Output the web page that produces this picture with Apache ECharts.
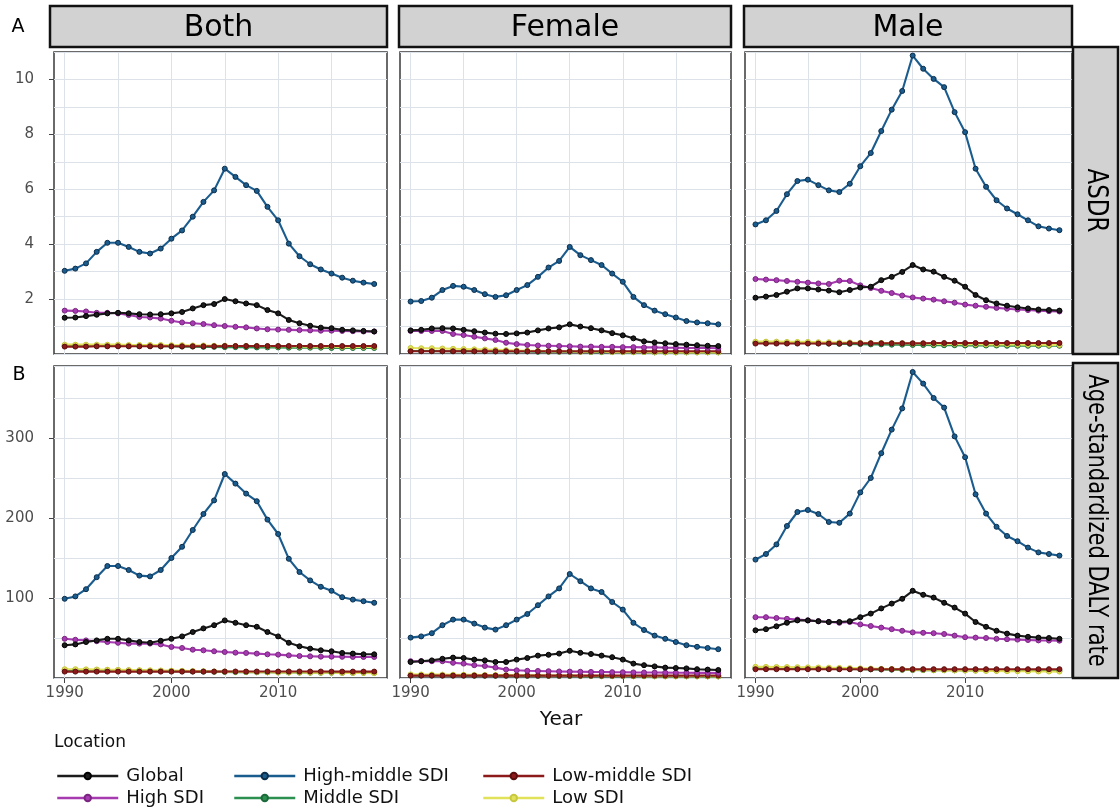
<!DOCTYPE html>
<html><head><meta charset="utf-8">
<script src="https://cdn.jsdelivr.net/npm/echarts@6/dist/echarts.min.js"></script>
<style>html,body{margin:0;padding:0;background:#fff}#c{width:1120px;height:812px}</style>
</head><body><div id="c"></div>
<script>
// ---------------- data ----------------
const years = [1990,1991,1992,1993,1994,1995,1996,1997,1998,1999,2000,2001,2002,2003,2004,2005,2006,2007,2008,2009,2010,2011,2012,2013,2014,2015,2016,2017,2018,2019];
const sexes = ['Both', 'Female', 'Male'];
const measures = ['ASDR', 'Age-standardized DALY rate'];
const locations = ['Global', 'High SDI', 'High-middle SDI', 'Middle SDI', 'Low-middle SDI', 'Low SDI'];
const xLabelYears = [1990, 2000, 2010];
const xGridYears = [1990, 1995, 2000, 2005, 2010, 2015];
const asdrTicks = [2, 4, 6, 8, 10];
const dalyTicks = [100, 200, 300];

// ASDR - Both
const asdrBothGlobal = [1.32,1.33,1.38,1.43,1.48,1.50,1.48,1.45,1.44,1.45,1.48,1.53,1.66,1.78,1.82,2.00,1.92,1.84,1.78,1.60,1.48,1.24,1.12,1.03,0.96,0.94,0.88,0.86,0.84,0.82];
const asdrBothHigh = [1.58,1.57,1.55,1.50,1.50,1.48,1.42,1.35,1.33,1.29,1.21,1.15,1.12,1.09,1.05,1.02,0.99,0.97,0.93,0.90,0.89,0.88,0.87,0.86,0.85,0.85,0.84,0.83,0.82,0.82];
const asdrBothHighMiddle = [3.03,3.11,3.30,3.72,4.05,4.05,3.90,3.72,3.66,3.84,4.20,4.50,5.00,5.54,5.96,6.75,6.45,6.15,5.94,5.36,4.87,4.02,3.56,3.27,3.08,2.93,2.78,2.67,2.60,2.55];
const asdrBothMiddle = [0.30,0.30,0.30,0.30,0.30,0.30,0.29,0.29,0.29,0.28,0.28,0.27,0.27,0.26,0.26,0.25,0.25,0.25,0.24,0.24,0.24,0.23,0.23,0.23,0.23,0.22,0.22,0.22,0.22,0.22];
const asdrBothLowMiddle = [0.27,0.27,0.27,0.28,0.28,0.28,0.28,0.28,0.28,0.28,0.28,0.28,0.28,0.28,0.28,0.29,0.29,0.29,0.29,0.29,0.29,0.29,0.29,0.29,0.29,0.29,0.29,0.29,0.29,0.29];
const asdrBothLow = [0.34,0.34,0.34,0.34,0.34,0.34,0.33,0.33,0.33,0.33,0.32,0.32,0.31,0.31,0.30,0.30,0.29,0.29,0.29,0.28,0.28,0.28,0.27,0.27,0.27,0.27,0.26,0.26,0.26,0.26];

// ASDR - Female
const asdrFemaleGlobal = [0.86,0.88,0.93,0.94,0.93,0.88,0.83,0.78,0.74,0.73,0.75,0.78,0.86,0.93,0.97,1.08,1.00,0.94,0.86,0.76,0.68,0.57,0.46,0.42,0.39,0.36,0.34,0.32,0.30,0.29];
const asdrFemaleHigh = [0.84,0.84,0.84,0.84,0.73,0.69,0.63,0.57,0.51,0.41,0.36,0.33,0.31,0.30,0.29,0.28,0.27,0.27,0.26,0.26,0.25,0.25,0.24,0.24,0.23,0.23,0.22,0.22,0.22,0.21];
const asdrFemaleHighMiddle = [1.91,1.93,2.05,2.33,2.48,2.45,2.33,2.18,2.08,2.14,2.33,2.51,2.81,3.15,3.39,3.90,3.60,3.42,3.24,2.93,2.63,2.08,1.78,1.58,1.45,1.33,1.20,1.15,1.12,1.08];
const asdrFemaleMiddle = [0.11,0.11,0.11,0.10,0.10,0.10,0.10,0.10,0.09,0.09,0.09,0.09,0.08,0.08,0.08,0.08,0.08,0.07,0.07,0.07,0.07,0.07,0.07,0.06,0.06,0.06,0.06,0.06,0.06,0.06];
const asdrFemaleLowMiddle = [0.10,0.10,0.10,0.10,0.10,0.10,0.10,0.10,0.10,0.10,0.10,0.10,0.10,0.10,0.10,0.10,0.10,0.10,0.10,0.10,0.10,0.10,0.10,0.10,0.10,0.10,0.10,0.10,0.10,0.10];
const asdrFemaleLow = [0.22,0.21,0.21,0.20,0.19,0.18,0.17,0.16,0.15,0.14,0.13,0.12,0.11,0.10,0.09,0.09,0.08,0.08,0.08,0.07,0.07,0.07,0.07,0.06,0.06,0.06,0.06,0.06,0.06,0.06];

// ASDR - Male
const asdrMaleGlobal = [2.05,2.09,2.15,2.27,2.39,2.39,2.35,2.31,2.25,2.33,2.42,2.45,2.69,2.81,2.99,3.24,3.08,3.00,2.81,2.67,2.45,2.15,1.96,1.84,1.76,1.70,1.66,1.62,1.60,1.58];
const asdrMaleHigh = [2.73,2.71,2.69,2.66,2.63,2.60,2.57,2.55,2.67,2.66,2.50,2.40,2.30,2.22,2.13,2.06,2.02,1.98,1.92,1.87,1.80,1.76,1.72,1.68,1.65,1.62,1.60,1.58,1.56,1.55];
const asdrMaleHighMiddle = [4.72,4.87,5.21,5.82,6.30,6.35,6.15,5.96,5.90,6.20,6.84,7.32,8.12,8.90,9.58,10.87,10.39,10.02,9.72,8.81,8.08,6.75,6.09,5.60,5.30,5.09,4.87,4.65,4.57,4.51];
const asdrMaleMiddle = [0.42,0.42,0.41,0.41,0.40,0.40,0.39,0.38,0.37,0.37,0.36,0.35,0.35,0.34,0.34,0.33,0.33,0.32,0.32,0.32,0.31,0.31,0.31,0.31,0.30,0.30,0.30,0.30,0.30,0.30];
const asdrMaleLowMiddle = [0.38,0.38,0.38,0.38,0.38,0.38,0.38,0.38,0.38,0.39,0.39,0.39,0.39,0.39,0.39,0.39,0.39,0.40,0.40,0.40,0.40,0.40,0.40,0.40,0.40,0.40,0.40,0.40,0.40,0.40];
const asdrMaleLow = [0.45,0.45,0.45,0.44,0.44,0.44,0.43,0.43,0.42,0.42,0.41,0.40,0.40,0.39,0.39,0.38,0.38,0.37,0.37,0.37,0.36,0.36,0.35,0.35,0.35,0.34,0.34,0.34,0.33,0.33];

// DALY - Both
const dalyBothGlobal = [41,42,45,47,49,49,47,45,44,46.5,49,52,57.5,62,66,72,69,66,64,57.5,52,44,39.6,36.7,34.6,33.4,31.3,30.5,29.6,29.6];
const dalyBothHigh = [49,47.8,47,46,45,44,43,43,43,42,38.8,37.5,35.4,34.6,33.4,32.5,31.7,31.3,30.5,29.6,29.2,28.3,27.5,27.1,26.7,26.7,26.5,26.4,26.3,26.3];
const dalyBothHighMiddle = [99,102,111,126,140,140,135,128,127,135,150,164,185,205,222,255,243,230.5,221,198,180,149,132.5,122,114,109,101,98,96,94];
const dalyBothMiddle = [10,10,10,10,9.8,9.6,9.4,9.2,9,8.8,8.6,8.4,8.2,8,7.8,7.6,7.4,7.3,7.2,7.1,7,6.9,6.8,6.7,6.6,6.6,6.5,6.5,6.5,6.5];
const dalyBothLowMiddle = [8,8,8,8,8,8,8,8,8,8,8,8,8,8,8,8.1,8.1,8.1,8.1,8.1,8.1,8.1,8.1,8.1,8.1,8,8,8,8,8];
const dalyBothLow = [11,11,10.8,10.6,10.4,10.2,10,9.8,9.6,9.4,9.2,9,8.8,8.5,8.2,8,7.8,7.6,7.4,7.2,7,6.9,6.8,6.7,6.6,6.5,6.4,6.3,6.2,6];

// DALY - Female
const dalyFemaleGlobal = [20,21,22,24,25.5,25,23,22,20,20,23,25,28,29,30.5,34,31.5,30,28,26,23,18,16,14.5,13,12.5,12,11,10.5,10];
const dalyFemaleHigh = [21,21,21,21,19,18,16,15,13,10.5,9.6,9,8.8,8.5,8.2,8,7.8,7.6,7.5,7.3,7.2,7,6.9,6.8,6.7,6.6,6.5,6.4,6.4,6.3];
const dalyFemaleHighMiddle = [50.5,52,56,66,73,73,68,63,60.5,66,73,80,91,102,112,130,121,112,107.5,95,85.5,69,60,53,49,45,41,39,37.5,36];
const dalyFemaleMiddle = [3.2,3.2,3.1,3.1,3,3,2.9,2.9,2.8,2.8,2.7,2.7,2.6,2.6,2.5,2.5,2.4,2.4,2.3,2.3,2.3,2.2,2.2,2.2,2.1,2.1,2.1,2.1,2,2];
const dalyFemaleLowMiddle = [3,3,3,3,3,3,3,3,3,3,3,3,3,3,3,3,3,3,3,3,3,3,3,3,3,3,3,3,3,3];
const dalyFemaleLow = [4.5,4.4,4.3,4.2,4.1,4,3.9,3.8,3.7,3.6,3.5,3.4,3.3,3.2,3.1,3,2.9,2.8,2.7,2.6,2.5,2.5,2.4,2.3,2.3,2.2,2.2,2.1,2.1,2];

// DALY - Male
const dalyMaleGlobal = [59.6,61,64.6,69,72,72,71,70,70,71,76,80.5,87,93,99,109,104,100.5,94,88,80.5,70,64,59,55.5,53,51.5,50.5,50,49];
const dalyMaleHigh = [76,76,75,74,73,72,71,70,69,70,67,65,63,61,59,57,56.5,56,55,53,51,50.5,50,49,48.5,48,47.5,47,46.8,46.7];
const dalyMaleHighMiddle = [148,155,167,190,207.5,210,205,195,194,205.5,232,250,281,310.5,337,382.5,368,350,338,302,276,229.6,205.5,189,177.5,171,163,157,155,153];
const dalyMaleMiddle = [12.5,12.5,12.4,12.3,12.2,12,11.8,11.6,11.4,11.2,11,10.8,10.6,10.4,10.2,10,9.9,9.8,9.7,9.6,9.5,9.4,9.3,9.2,9.2,9.1,9.1,9,9,9];
const dalyMaleLowMiddle = [11,11,11,11,11,11,11,11,11,11,11,11,11,11,11,11,11,11,11,11,11,11,11,11,11,11,11,11,11,11];
const dalyMaleLow = [14,13.9,13.8,13.7,13.5,13.3,13.1,12.9,12.6,12.3,12,11.7,11.4,11.1,10.8,10.5,10.2,9.9,9.7,9.5,9.3,9.1,8.9,8.7,8.6,8.5,8.4,8.2,8.1,8];

// lookup table built from the arrays above
const table = {
  'ASDR': {
    'Both':   {'Global': asdrBothGlobal, 'High SDI': asdrBothHigh, 'High-middle SDI': asdrBothHighMiddle, 'Middle SDI': asdrBothMiddle, 'Low-middle SDI': asdrBothLowMiddle, 'Low SDI': asdrBothLow},
    'Female': {'Global': asdrFemaleGlobal, 'High SDI': asdrFemaleHigh, 'High-middle SDI': asdrFemaleHighMiddle, 'Middle SDI': asdrFemaleMiddle, 'Low-middle SDI': asdrFemaleLowMiddle, 'Low SDI': asdrFemaleLow},
    'Male':   {'Global': asdrMaleGlobal, 'High SDI': asdrMaleHigh, 'High-middle SDI': asdrMaleHighMiddle, 'Middle SDI': asdrMaleMiddle, 'Low-middle SDI': asdrMaleLowMiddle, 'Low SDI': asdrMaleLow}
  },
  'Age-standardized DALY rate': {
    'Both':   {'Global': dalyBothGlobal, 'High SDI': dalyBothHigh, 'High-middle SDI': dalyBothHighMiddle, 'Middle SDI': dalyBothMiddle, 'Low-middle SDI': dalyBothLowMiddle, 'Low SDI': dalyBothLow},
    'Female': {'Global': dalyFemaleGlobal, 'High SDI': dalyFemaleHigh, 'High-middle SDI': dalyFemaleHighMiddle, 'Middle SDI': dalyFemaleMiddle, 'Low-middle SDI': dalyFemaleLowMiddle, 'Low SDI': dalyFemaleLow},
    'Male':   {'Global': dalyMaleGlobal, 'High SDI': dalyMaleHigh, 'High-middle SDI': dalyMaleHighMiddle, 'Middle SDI': dalyMaleMiddle, 'Low-middle SDI': dalyMaleLowMiddle, 'Low SDI': dalyMaleLow}
  }
};

// ---------------- style / layout ----------------
const colors = {'Global':'#1c1c1c','High SDI':'#a63ab0','High-middle SDI':'#1b5c8f','Middle SDI':'#2c9050','Low-middle SDI':'#8c1a1a','Low SDI':'#e2e25a'};
const markerBorder = {'Global':'#000','High SDI':'#7a2680','High-middle SDI':'#0c2e4a','Middle SDI':'#1d6a3a','Low-middle SDI':'#5a0e0e','Low SDI':'#c8c840'};
const drawOrder = ['Middle SDI','Low SDI','Low-middle SDI','High SDI','Global','High-middle SDI'];
const FONT = '"DejaVu Sans", "Liberation Sans", sans-serif';
const gridColor = '#dde2e8';
const colLeft = [54, 400, 745], colWidth = [333, 331, 327];
const rowTop = [52, 366], rowHeight = [302, 312];
const yMax = [11, 390], yGridStep = [1, 50];
const yTicks = [asdrTicks, dalyTicks];
const plainNum = v => String(v);

const grids = [], xAxes = [], yAxes = [], series = [];
let g = 0;
for (let r = 0; r < 2; r++) {
  for (let c = 0; c < 3; c++) {
    grids.push({left: colLeft[c], top: rowTop[r], width: colWidth[c], height: rowHeight[r],
      show: true, borderColor: '#3a3a3a', borderWidth: 1.5, backgroundColor: '#fff'});
    // grid-line axes
    xAxes.push({type:'value', gridIndex:g, position:'bottom', min:1989, max:2020.2,
      axisLine:{show:false}, axisTick:{show:false, customValues:xGridYears}, axisLabel:{show:false},
      splitLine:{show:true, lineStyle:{color:gridColor, width:1}}});
    // label axes
    xAxes.push({type:'value', gridIndex:g, position:'bottom', min:1989, max:2020.2,
      axisLine:{show:false},
      axisTick:{show:r===1, customValues:xLabelYears, length:5, lineStyle:{color:'#444', width:1}},
      axisLabel:{show:r===1, customValues:xLabelYears, formatter:plainNum, margin:8, fontFamily:FONT, fontSize:15, color:'#4d4d4d'},
      splitLine:{show:false}});
    yAxes.push({type:'value', gridIndex:g, position:'left', min:0, max:yMax[r], interval:yGridStep[r],
      axisLine:{show:false}, axisTick:{show:false}, axisLabel:{show:false},
      splitLine:{show:true, lineStyle:{color:gridColor, width:1}}});
    yAxes.push({type:'value', gridIndex:g, position:'left', min:0, max:yMax[r],
      axisLine:{show:false},
      axisTick:{show:c===0, customValues:yTicks[r], length:5, lineStyle:{color:'#444', width:1}},
      axisLabel:{show:c===0, customValues:yTicks[r], formatter:plainNum, margin:20, fontFamily:FONT, fontSize:15, color:'#4d4d4d'},
      splitLine:{show:false}});
    const tbl = table[measures[r]][sexes[c]];
    drawOrder.forEach(loc => {
      const vals = tbl[loc];
      series.push({type:'line', name:loc, xAxisIndex:2*g, yAxisIndex:2*g,
        data: years.map((yr, i) => [yr, vals[i]]),
        symbol:'circle', symbolSize:5, showSymbol:true,
        lineStyle:{width:2.1, color:colors[loc]},
        itemStyle:{color:colors[loc], borderColor:markerBorder[loc], borderWidth:1},
        emphasis:{disabled:true}, animation:false, silent:true});
    });
    g++;
  }
}

// legend: one component per entry, arranged 3 columns x 2 rows
const legendCols = [56, 233, 482];
const legendRows = [767, 789];
const legendGrid = [['Global','High SDI'], ['High-middle SDI','Middle SDI'], ['Low-middle SDI','Low SDI']];
const legends = [];
legendGrid.forEach((col, ci) => col.forEach((name, ri) => {
  legends.push({orient:'horizontal', left:legendCols[ci], top:legendRows[ri], itemWidth:61, itemHeight:8,
    padding:0, selectedMode:false, data:[name], lineStyle:{width:2.5},
    textStyle:{fontFamily:FONT, fontSize:18, color:'#111', padding:[0,0,0,3]}});
}));

const stripStyle = {fill:'#d2d2d2', stroke:'#111', lineWidth:2.5};
const topStrips = [{x:50,w:337},{x:399,w:332},{x:744,w:328}];
const graphics = [];
topStrips.forEach((s, i) => {
  graphics.push({type:'rect', shape:{x:s.x, y:6, width:s.w, height:41}, style:stripStyle, z:10});
  graphics.push({type:'text', x:s.x + s.w/2, y:28, z:11,
    style:{text:sexes[i], font:'30px ' + FONT, fill:'#000', align:'center', verticalAlign:'middle'}});
});
const rightStrips = [{y:47,h:307,fs:23},{y:363,h:315,fs:21}];
rightStrips.forEach((s, i) => {
  graphics.push({type:'rect', shape:{x:1073, y:s.y, width:45, height:s.h}, style:stripStyle, z:10});
  graphics.push({type:'text', x:1095.5, y:s.y + s.h/2, rotation:-Math.PI/2, scaleY:1.25, z:11,
    style:{text:measures[i], font:s.fs + 'px ' + FONT, fill:'#000', align:'center', verticalAlign:'middle'}});
});
graphics.push({type:'text', x:18, y:27, style:{text:'A', font:'19px ' + FONT, fill:'#000', align:'center', verticalAlign:'middle'}});
graphics.push({type:'text', x:19, y:375, style:{text:'B', font:'19px ' + FONT, fill:'#000', align:'center', verticalAlign:'middle'}});
graphics.push({type:'text', x:561, y:720, style:{text:'Year', font:'20px ' + FONT, fill:'#111', align:'center', verticalAlign:'middle'}});
graphics.push({type:'text', x:54, y:743, style:{text:'Location', font:'17px ' + FONT, fill:'#111', align:'left', verticalAlign:'middle'}});

const chart = echarts.init(document.getElementById('c'), null, {renderer:'canvas'});
chart.setOption({
  animation:false,
  backgroundColor:'#fff',
  grid:grids, xAxis:xAxes, yAxis:yAxes, series:series,
  legend:legends,
  graphic:graphics
});
</script>
</body></html>
